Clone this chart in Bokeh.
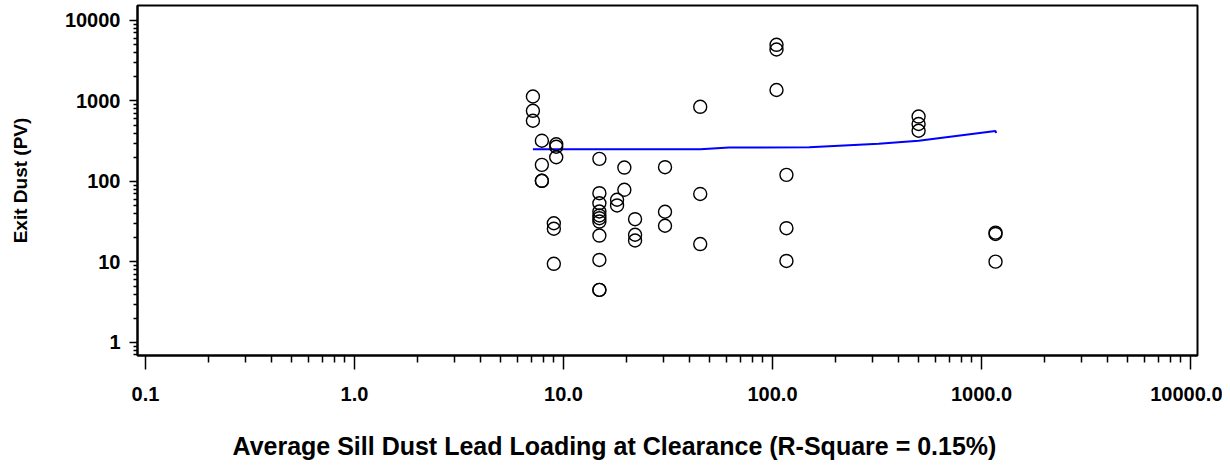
from bokeh.plotting import figure
from bokeh.models import Range1d, FixedTicker, Title
from bokeh.embed import file_html
from bokeh.resources import INLINE

# Scatter data (sill dust lead loading, exit dust)
sill_x = [7.14, 7.14, 7.14,
          7.88, 7.88, 7.88, 7.88,
          9.23, 9.23, 9.23,
          8.99, 8.99, 8.99,
          14.85, 14.85, 14.85, 14.85, 14.85, 14.85, 14.85, 14.85, 14.85, 14.85, 14.85,
          19.55, 19.55,
          18.04, 18.04,
          22.0, 22.0, 22.0,
          30.6, 30.6, 30.6,
          45.1, 45.1, 45.1,
          104.5, 104.5, 104.5,
          116.6, 116.6, 116.6,
          500, 500, 500,
          1167, 1167, 1167]
exit_y = [1137, 755, 568,
          321, 161, 102, 102,
          290, 270, 200,
          30.3, 25.9, 9.5,
          191, 71.6, 53.7, 42.4, 37.8, 35.0, 31.8, 21.3, 10.6, 4.5, 4.5,
          149, 78.9,
          59.3, 50.4,
          34.0, 21.8, 18.5,
          150.6, 42.1, 28.2,
          847, 70, 16.7,
          4990, 4365, 1370,
          121, 26.3, 10.3,
          641, 518, 427,
          23.2, 22.3, 10.1]

# Fitted line
fit_x = [7.14, 45.1, 62, 150, 322, 500, 1167, 1175]
fit_y = [252, 252, 264, 267, 294, 320, 424, 400]

x_major = [0.1, 1, 10, 100, 1000, 10000]
x_labels = ["0.1", "1.0", "10.0", "100.0", "1000.0", "10000.0"]
y_major = [1, 10, 100, 1000, 10000]
y_labels = ["1", "10", "100", "1000", "10000"]

x_title = "Average Sill Dust Lead Loading at Clearance (R-Square = 0.15%)"
y_title = "Exit Dust (PV)"

x_minor = [m * d for d in [0.1, 1, 10, 100, 1000] for m in range(2, 10)]
y_minor = [m * d for d in [0.1, 1, 10, 100, 1000] for m in range(2, 10)]

FONT = "Liberation Sans"

p = figure(width=1222, height=464, x_axis_type="log", y_axis_type="log",
           x_range=Range1d(10 ** -1.0382, 10 ** 4.0334),
           y_range=Range1d(10 ** -0.1615, 10 ** 4.1863),
           output_backend="svg", toolbar_location=None,
           min_border_left=137, min_border_right=25,
           min_border_top=5, min_border_bottom=109)

p.grid.visible = False
p.outline_line_color = "black"
p.outline_line_width = 2
p.background_fill_color = "white"
p.border_fill_color = "white"

xa = p.xaxis[0]
xa.ticker = FixedTicker(ticks=x_major, minor_ticks=x_minor)
xa.major_label_overrides = dict(zip(x_major, x_labels))
xa.major_tick_out = 14
xa.major_tick_in = 0
xa.minor_tick_out = 7
xa.minor_tick_in = 0
xa.major_tick_line_width = 1.5
xa.minor_tick_line_width = 1.5
xa.axis_line_width = 2
xa.major_label_text_font = FONT
xa.major_label_text_font_style = "bold"
xa.major_label_text_font_size = "20px"
xa.major_label_text_color = "black"
xa.major_label_standoff = 17

ya = p.yaxis[0]
ya.ticker = FixedTicker(ticks=y_major, minor_ticks=y_minor)
ya.major_label_overrides = dict(zip(y_major, y_labels))
ya.major_tick_out = 8
ya.major_tick_in = 0
ya.minor_tick_out = 4
ya.minor_tick_in = 0
ya.major_tick_line_width = 1.5
ya.minor_tick_line_width = 1.5
ya.axis_line_width = 2
ya.major_label_text_font = FONT
ya.major_label_text_font_style = "bold"
ya.major_label_text_font_size = "20px"
ya.major_label_text_color = "black"
ya.major_label_standoff = 9
ya.axis_label = y_title
ya.axis_label_text_font = FONT
ya.axis_label_text_font_style = "bold"
ya.axis_label_text_font_size = "19px"
ya.axis_label_text_color = "black"
ya.axis_label_standoff = 31

# x title, left-offset as in the original
xt = Title(text=x_title, align="left", offset=95, vertical_align="bottom",
           text_font=FONT, text_font_style="bold", text_font_size="25px",
           text_color="black")
try:
    xt.padding = dict(left=0, right=0, top=26, bottom=0)
    xt.standoff = 0
except Exception:
    xt.standoff = 28
p.add_layout(xt, "below")

p.line(fit_x, fit_y, line_color="#0000FF", line_width=2)
p.scatter(sill_x, exit_y, marker="circle", size=13, fill_color=None,
          line_color="black", line_width=1.4)

open("out.html", "w").write(file_html(p, INLINE))
